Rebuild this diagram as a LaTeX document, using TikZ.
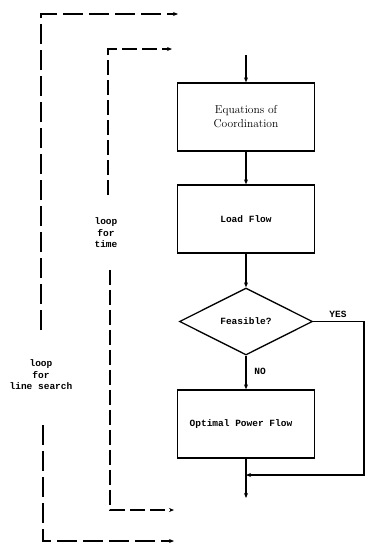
\documentclass[tikz,border=0pt]{standalone}
\usepackage{fontspec}
\newfontfamily\tw{Liberation Mono}
\usetikzlibrary{shapes.geometric,arrows.meta}
\begin{document}
\begin{tikzpicture}[x=1pt,y=-1pt,
  line width=1.3pt,
  tip/.style={-{Stealth[length=5pt,width=4pt]}},
  box/.style={draw,rectangle,inner sep=0pt},
  twtext/.style={font=\tw\bfseries\fontsize{9.5}{11.5}\selectfont,align=center},
  outerdash/.style={dash pattern=on 20pt off 6pt},
  innerdash/.style={dash pattern=on 15pt off 5pt}]
\useasboundingbox (0,0) rectangle (365,544);
% boxes
\node[box,minimum width=137pt,minimum height=68pt,align=center,
  font=\fontsize{11.5}{14}\selectfont] (eq) at (246,117) {Equations of\\Coordination};
\node[box,twtext,minimum width=137pt,minimum height=68pt] (lf) at (246,219) {Load Flow};
\node[draw,diamond,aspect=2,inner sep=0pt,minimum width=133pt,minimum height=67pt,twtext] (fe) at (246,321.5) {Feasible?};
\node[box,twtext,minimum width=137pt,minimum height=68pt] (opf) at (246,424) {\hspace*{-10pt}Optimal Power Flow};
% labels
\node[twtext] (yes) at (338,314) {YES};
\node[twtext] (no) at (260,371) {NO};
\node[twtext] (lt) at (106,233) {loop\\for\\time};
\node[twtext] (ll) at (41,375) {loop\\for\\line search};
% coordinates
\coordinate (in) at (246,55);
\coordinate (out) at (246,498);
\coordinate (yr) at (364,321.5);
\coordinate (yb) at (364,475);
\coordinate (ym) at (246,475);
\coordinate (ot1) at (41,330);
\coordinate (ot2) at (41,14);
\coordinate (ot3) at (178,14);
\coordinate (ob1) at (43,425);
\coordinate (ob2) at (43,541);
\coordinate (ob3) at (174,541);
\coordinate (it1) at (108,195);
\coordinate (it2) at (108,49);
\coordinate (it3) at (172,49);
\coordinate (ib1) at (110,270);
\coordinate (ib2) at (110,510);
\coordinate (ib3) at (174,510);
% flow
\draw[tip] (in) -- (eq.north);
\draw[tip] (eq.south) -- (lf.north);
\draw[tip] (lf.south) -- (fe.north);
\draw[tip] (fe.south) -- (opf.north);
\draw[tip] (opf.south) -- (out);
\draw[tip] (fe.east) -- (yr) -- (yb) -- (ym);
% loops
\draw[tip,outerdash] (ot1) -- (ot2) -- (ot3);
\draw[tip,outerdash] (ob1) -- (ob2) -- (ob3);
\draw[tip,innerdash] (it1) -- (it2) -- (it3);
\draw[tip,innerdash] (ib1) -- (ib2) -- (ib3);
\end{tikzpicture}
\end{document}
